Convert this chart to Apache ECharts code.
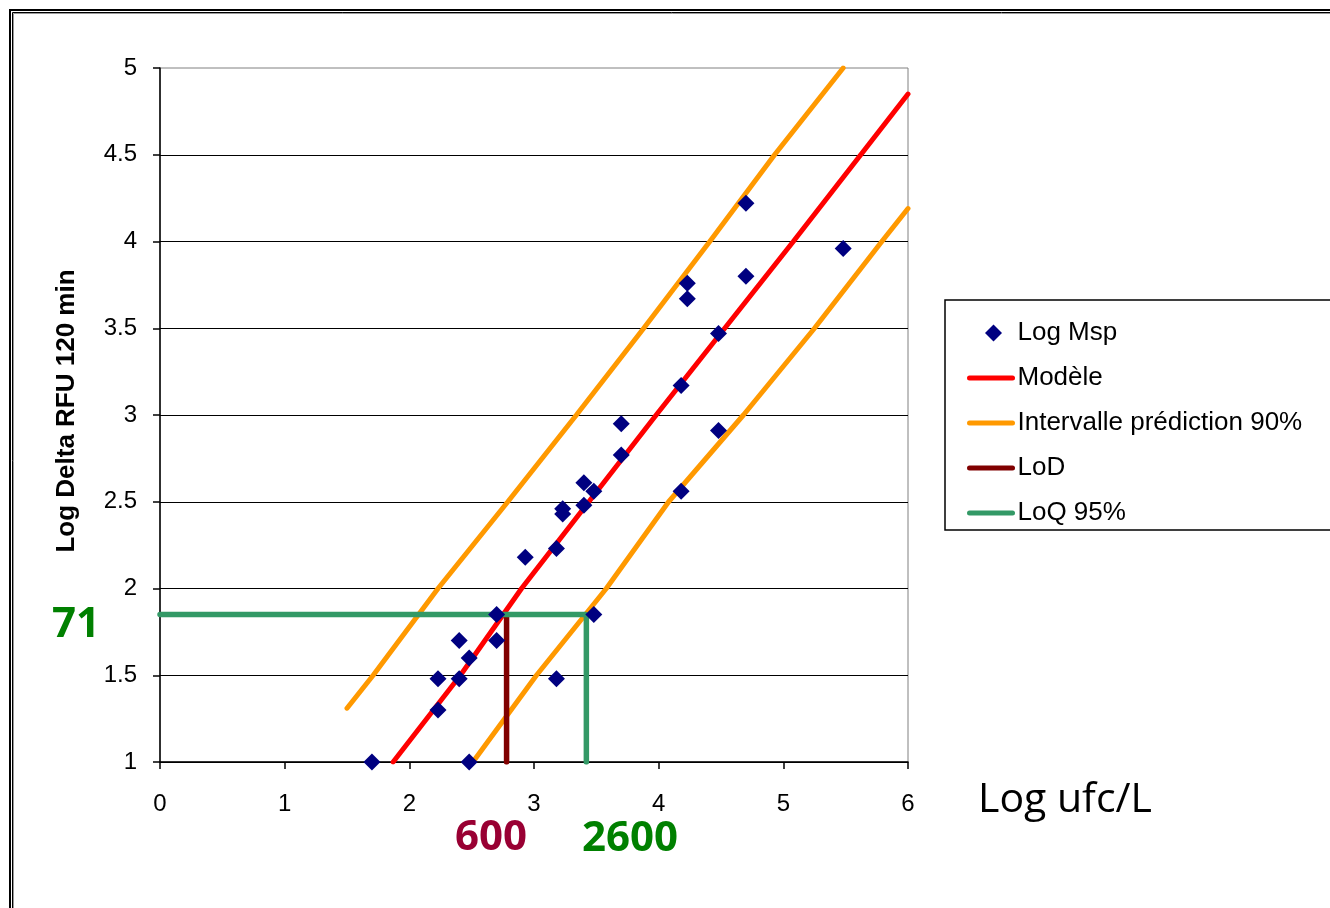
<!DOCTYPE html>
<html>
<head>
<meta charset="utf-8">
<script src="https://cdn.jsdelivr.net/npm/echarts@6/dist/echarts.min.js"></script>
<style>
html,body{margin:0;padding:0;background:#fff;}
#chart{width:1330px;height:908px;}
</style>
</head>
<body>
<div id="chart"></div>
<script>
// Observed points (Log ufc/L, Log Delta RFU 120 min)
const mspX = [1.70, 2.23, 2.23, 2.40, 2.40, 2.48, 2.48, 2.70, 2.70, 3.18, 3.48, 2.93, 3.18, 3.23, 3.23, 3.40, 3.40, 3.48, 3.70, 3.70, 4.18, 4.18, 4.48, 4.48, 4.23, 4.23, 4.70, 4.70, 5.48];
const mspY = [1.00, 1.30, 1.48, 1.48, 1.70, 1.60, 1.00, 1.70, 1.85, 1.48, 1.85, 2.18, 2.23, 2.46, 2.43, 2.48, 2.61, 2.56, 2.77, 2.95, 2.56, 3.17, 2.91, 3.47, 3.67, 3.76, 3.80, 4.22, 3.96];
// Model line
const modelX = [1.87, 2.41, 2.90, 3.44, 3.98, 4.53, 5.08, 6.00];
const modelY = [1.00, 1.50, 2.00, 2.50, 3.00, 3.50, 4.00, 4.85];
// Prediction interval 90% (upper / lower)
const upperX = [1.50, 1.71, 2.23, 2.79, 3.34, 3.88, 4.41, 4.93, 5.48];
const upperY = [1.31, 1.50, 2.00, 2.50, 3.00, 3.50, 4.00, 4.50, 5.00];
const lowerX = [2.51, 3.02, 3.58, 4.08, 4.68, 5.25, 5.79, 6.00];
const lowerY = [1.00, 1.50, 2.00, 2.50, 3.00, 3.50, 4.00, 4.19];
// LoD and LoQ 95%
const lodX = [2.78, 2.78];
const lodY = [1.00, 1.85];
const loqX = [0.00, 3.42, 3.42];
const loqY = [1.85, 1.85, 1.00];
// Annotation labels
const lodLabel = '600';
const loqXLabel = '2600';
const loqYLabel = '71';
const xTitle = 'Log ufc/L';
const yTitle = 'Log Delta RFU 120 min';

const zip = (xs, ys) => xs.map((x, i) => [x, ys[i]]);

const chart = echarts.init(document.getElementById('chart'), null, {renderer: 'canvas'});
const axisFont = 'Liberation Sans, Arial, sans-serif';
const hideSym = {opacity: 0};

chart.setOption({
  backgroundColor: '#ffffff',
  animation: false,
  grid: {
    left: 160, top: 68, width: 748, height: 694,
    show: true, borderColor: '#808080', borderWidth: 1, backgroundColor: 'transparent'
  },
  xAxis: {
    type: 'value', min: 0, max: 6, interval: 1,
    axisLine: {show: true, onZero: false, lineStyle: {color: '#000', width: 1.5}},
    axisTick: {show: true, inside: false, length: 7, lineStyle: {color: '#000', width: 1.5}},
    axisLabel: {margin: 30, fontFamily: axisFont, fontSize: 24, color: '#000'},
    splitLine: {show: false}
  },
  yAxis: {
    type: 'value', min: 1, max: 5, interval: 0.5,
    name: yTitle, nameLocation: 'middle', nameRotate: 90, nameGap: 80,
    nameTextStyle: {fontFamily: axisFont, fontSize: 26, fontWeight: 'bold', color: '#000', padding: [0, 0, 0, 8]},
    axisLine: {show: true, onZero: false, lineStyle: {color: '#000', width: 1.5}},
    axisTick: {show: true, inside: false, length: 7, lineStyle: {color: '#000', width: 1.5}},
    axisLabel: {margin: 23, fontFamily: axisFont, fontSize: 24, color: '#000'},
    splitLine: {show: true, showMaxLine: false, lineStyle: {color: '#000', width: 1.2}}
  },
  legend: {
    orient: 'vertical', left: 945, top: 300,
    padding: [20, 40, 4, 22],
    itemWidth: 43, itemHeight: 18, itemGap: 19,
    borderColor: '#000', borderWidth: 1.5, backgroundColor: '#fff',
    textStyle: {fontFamily: axisFont, fontSize: 26, color: '#000'},
    lineStyle: {width: 5, cap: 'round'},
    data: [
      {name: 'Log Msp', icon: 'path://M0,0 M43,18 M15.5,9 L24,0.5 L32.5,9 L24,17.5 Z'},
      {name: 'Modèle', itemStyle: hideSym},
      {name: 'Intervalle prédiction 90%', itemStyle: hideSym},
      {name: 'LoD', itemStyle: hideSym},
      {name: 'LoQ 95%', itemStyle: hideSym}
    ]
  },
  series: [
    {
      name: 'Intervalle prédiction 90%', type: 'line', data: zip(upperX, upperY),
      symbol: 'none', smooth: false, z: 2,
      lineStyle: {color: '#FF9900', width: 5, cap: 'round'}, itemStyle: {color: '#FF9900'}
    },
    {
      name: 'Intervalle prédiction 90%', type: 'line', data: zip(lowerX, lowerY),
      symbol: 'none', smooth: false, z: 2,
      lineStyle: {color: '#FF9900', width: 5, cap: 'round'}, itemStyle: {color: '#FF9900'}
    },
    {
      name: 'Modèle', type: 'line', data: zip(modelX, modelY),
      symbol: 'none', smooth: false, z: 3,
      lineStyle: {color: '#FF0000', width: 5, cap: 'round'}, itemStyle: {color: '#FF0000'}
    },
    {
      name: 'LoD', type: 'line', data: zip(lodX, lodY),
      symbol: 'none', z: 3,
      lineStyle: {color: '#800000', width: 5.5, cap: 'round'}, itemStyle: {color: '#800000'}
    },
    {
      name: 'LoQ 95%', type: 'line', data: zip(loqX, loqY),
      symbol: 'none', z: 3,
      lineStyle: {color: '#339966', width: 5.5, cap: 'round'}, itemStyle: {color: '#339966'}
    },
    {
      name: 'Log Msp', type: 'scatter', data: zip(mspX, mspY),
      symbol: 'diamond', symbolSize: 17, z: 5,
      itemStyle: {color: '#000080', opacity: 1}
    }
  ],
  graphic: [
    {type: 'rect', silent: true, z: 100, shape: {x: 10, y: 10, width: 1400, height: 1000}, style: {fill: 'none', stroke: '#000', lineWidth: 2}},
    {type: 'rect', silent: true, z: 100, shape: {x: 12.5, y: 12.5, width: 1400, height: 1000}, style: {fill: 'none', stroke: '#000', lineWidth: 1}},
    {type: 'rect', silent: true, z: 100, shape: {x: 13.5, y: 13.5, width: 1400, height: 1000}, style: {fill: 'none', stroke: '#999', lineWidth: 1}},
    {type: 'text', silent: true, z: 100, x: 978, y: 800, style: {text: xTitle, fill: '#000', font: '41px "Open Sans"', textAlign: 'left', textVerticalAlign: 'middle'}},
    {type: 'text', silent: true, z: 100, x: 76, y: 625, style: {text: loqYLabel, fill: '#008000', font: 'bold 42px "Open Sans"', textAlign: 'center', textVerticalAlign: 'middle'}},
    {type: 'text', silent: true, z: 100, x: 491, y: 838, style: {text: lodLabel, fill: '#990033', font: 'bold 42px "Open Sans"', textAlign: 'center', textVerticalAlign: 'middle'}},
    {type: 'text', silent: true, z: 100, x: 630, y: 839, style: {text: loqXLabel, fill: '#008000', font: 'bold 42px "Open Sans"', textAlign: 'center', textVerticalAlign: 'middle'}}
  ]
});
</script>
</body>
</html>
